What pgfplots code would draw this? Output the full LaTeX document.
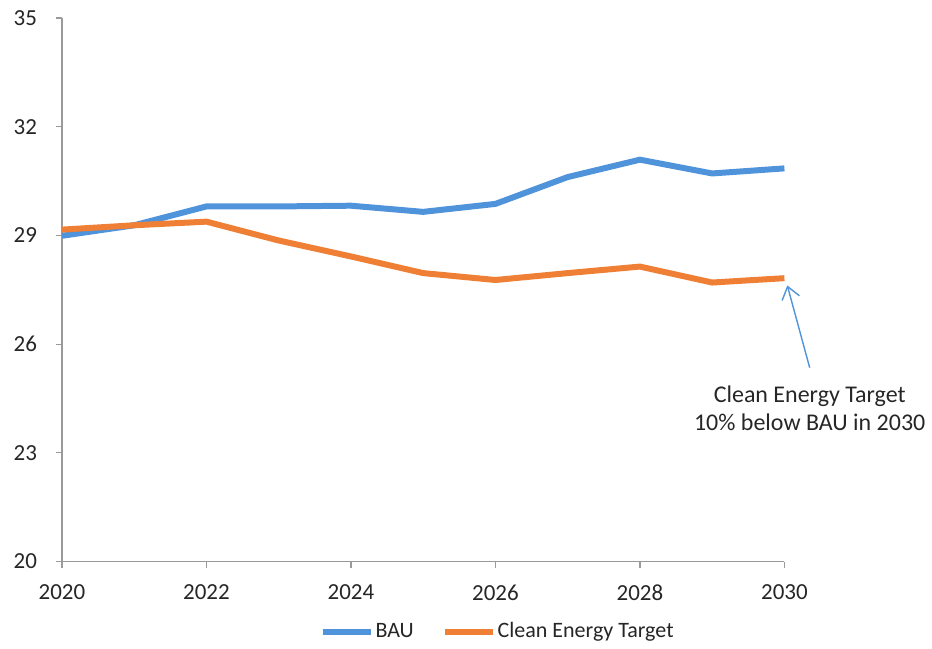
\documentclass[border=0pt]{standalone}
\usepackage{pgfplots}
\pgfplotsset{compat=1.18}
\usetikzlibrary{arrows.meta}
\usepackage{fontspec}
\setmainfont{Carlito}
\definecolor{bau}{HTML}{4F93DB}
\definecolor{cet}{HTML}{EE7F35}
\definecolor{axgray}{HTML}{9A9A9A}
\begin{document}
\begin{tikzpicture}
\begin{axis}[
scale only axis,
width=361.5pt, height=272pt,
xmin=2020, xmax=2030, ymin=20, ymax=35,
xtick={2020,2022,...,2030},
ytick={20,23,26,29,32,35},
axis x line*=bottom, axis y line*=left,
axis line style={axgray, line width=0.6pt},
tick style={axgray, line width=0.6pt},
tick align=outside, major tick length=3pt,
/pgf/number format/assume math mode=true,
/pgf/number format/1000 sep={},
ticklabel style={font=\fontsize{11.5}{13}\selectfont, text=black!85},
xticklabel style={yshift=-5pt},
yticklabel style={xshift=-6pt},
clip=false,
legend style={at={(0.603,-0.1287)}, anchor=center, draw=none,
  font=\fontsize{11}{13}\selectfont, text=black!85,
  nodes={inner xsep=1pt},
  /tikz/every even column/.append style={column sep=13pt}},
legend columns=2,
legend image code/.code={\draw[#1, line width=3pt] (0pt,0pt) -- (24pt,0pt);},
]
\addplot[bau, line width=3pt] coordinates {
(2020,28.99) (2021,29.28) (2022,29.80) (2023,29.80) (2024,29.82)
(2025,29.65) (2026,29.87) (2027,30.61) (2028,31.09) (2029,30.71) (2030,30.85)
};
\addplot[cet, line width=3pt] coordinates {
(2020,29.16) (2021,29.28) (2022,29.38) (2023,28.86) (2024,28.42)
(2025,27.96) (2026,27.77) (2027,27.96) (2028,28.14) (2029,27.70) (2030,27.82)
};
\legend{BAU, Clean Energy Target}
\draw[bau, line width=0.7pt, -{Straight Barb[length=6pt,width=9pt]}] (axis cs:2030.35,25.35) -- (axis cs:2030.04,27.62);
\node[align=center, font=\fontsize{12}{14}\selectfont, text=black!85] at (axis cs:2030.35,24.22) {Clean Energy Target\\10\% below BAU in 2030};
\path ([shift={(-31pt,-42pt)}]rel axis cs:0,0) rectangle ([shift={(73.5pt,9pt)}]rel axis cs:1,1);
\end{axis}
\end{tikzpicture}
\end{document}
